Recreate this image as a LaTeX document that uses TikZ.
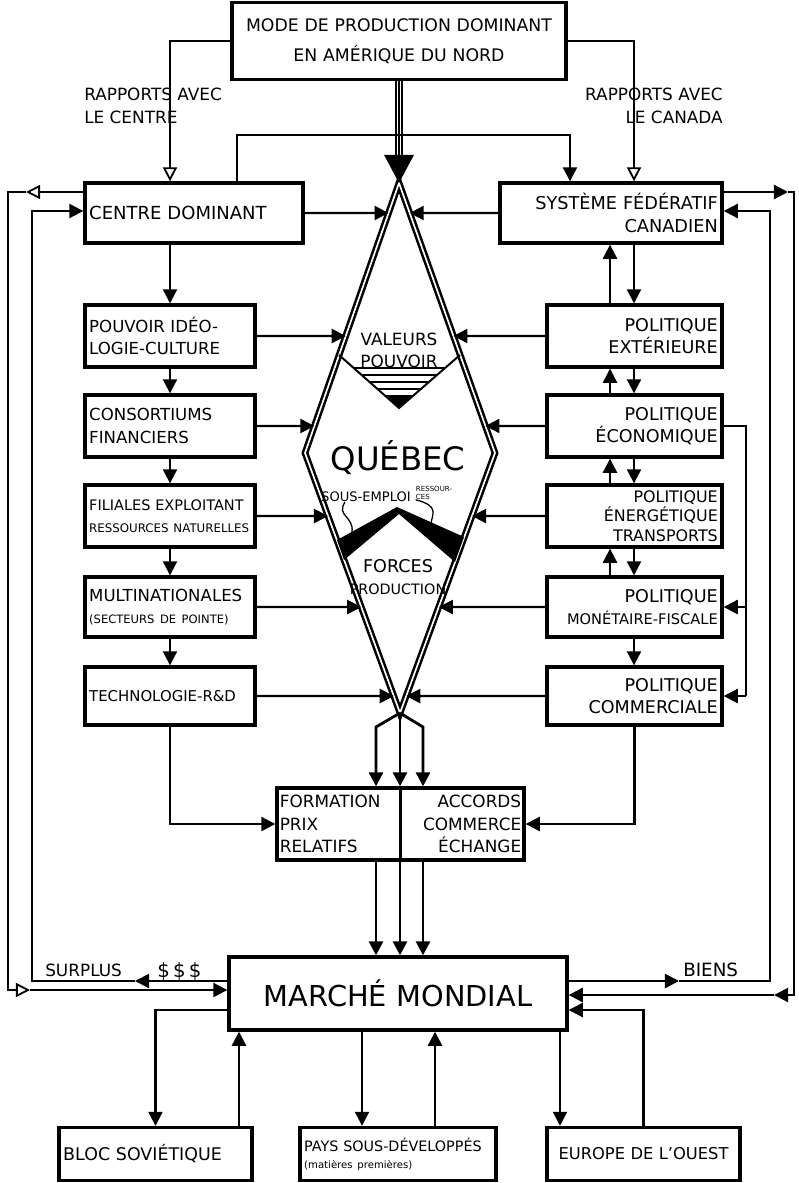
\documentclass[tikz,border=0pt]{standalone}
\usepackage{fontspec}
\setmainfont{DejaVu Sans}
\usetikzlibrary{arrows.meta,calc}
\tikzstyle{fl}=[->, line width=1.5pt]
\tikzstyle{flo}=[-{Triangle[open,length=10pt,width=10pt,line width=1.3pt]}, line width=1.5pt]
\tikzstyle{grosfl}=[->, line width=2pt]
\tikzstyle{bord}=[double, line width=1.8pt, double distance=1.2pt]
\tikzstyle{gauche}=[align=left]
\tikzstyle{droite}=[align=right]
\tikzstyle{lib}=[inner sep=0pt, font=\fontsize{12}{16}\selectfont]
\tikzset{boite/.style 2 args={draw, line width=2.4pt, inner xsep=3pt, inner ysep=0pt,
    text width=#1*0.025cm-6pt, minimum height=#2*0.025cm,
    font=\fontsize{11.8}{16}\selectfont}}

\begin{document}
\begin{tikzpicture}[x=0.025cm, y=-0.025cm, >={Triangle[length=10pt,width=10pt]}]
  \useasboundingbox (0,0) rectangle (798,1183);

  % boites
  \node[boite={334}{77}, align=center, font=\fontsize{12.3}{21}\selectfont] (mode) at (399,41) {MODE DE PRODUCTION DOMINANT\\EN AMÉRIQUE DU NORD};
  \node[boite={218}{60}, gauche, font=\fontsize{12.8}{16}\selectfont] (centre) at (194,213) {CENTRE DOMINANT};
  \node[boite={222}{60}, droite, font=\fontsize{12.6}{16}\selectfont] (systeme) at (611,213) {SYSTÈME FÉDÉRATIF\\CANADIEN};

  \node[boite={170}{62}, gauche] (pouvoir) at (170,336) {POUVOIR IDÉO-\\LOGIE-CULTURE};
  \node[boite={170}{62}, gauche] (consort) at (170,426) {CONSORTIUMS\\FINANCIERS};
  \node[boite={170}{62}, gauche, font=\fontsize{10.3}{16}\selectfont] (filiales) at (170,516) {FILIALES EXPLOITANT\\{\fontsize{8.4}{16}\selectfont RESSOURCES NATURELLES}};
  \node[boite={170}{60}, gauche] (multi) at (170,607) {MULTINATIONALES\\{\fontsize{8.2}{16}\selectfont (SECTEURS DE POINTE)}};
  \node[boite={170}{58}, gauche, font=\fontsize{10.6}{16}\selectfont] (techno) at (170,696) {TECHNOLOGIE-R\&D};

  \node[boite={175}{62}, droite, font=\fontsize{12.5}{16}\selectfont] (ext) at (634.5,336) {POLITIQUE\\EXTÉRIEURE};
  \node[boite={175}{62}, droite, font=\fontsize{12.5}{16}\selectfont] (eco) at (634.5,426) {POLITIQUE\\ÉCONOMIQUE};
  \node[boite={175}{62}, droite, font=\fontsize{11.3}{13.8}\selectfont] (energie) at (634.5,516) {POLITIQUE\\ÉNERGÉTIQUE\\TRANSPORTS};
  \node[boite={175}{60}, droite, font=\fontsize{12.5}{16}\selectfont] (monet) at (634.5,607) {POLITIQUE\\{\fontsize{10.4}{16}\selectfont MONÉTAIRE-FISCALE}};
  \node[boite={175}{58}, droite, font=\fontsize{12.5}{16}\selectfont] (comm) at (634.5,696) {POLITIQUE\\COMMERCIALE};

  \node[boite={247}{72}] (formation) at (400.5,824) {};
  \draw[line width=2.4pt] (formation.north) -- (formation.south);
  \node[lib, gauche, anchor=west] (prix) at ([xshift=3pt]formation.west) {FORMATION\\PRIX\\RELATIFS};
  \node[lib, droite, anchor=east] (accords) at ([xshift=-3pt]formation.east) {ACCORDS\\COMMERCE\\ÉCHANGE};

  \node[boite={338}{73}, align=center, font=\fontsize{20.5}{24}\selectfont] (marche) at (398,993.5) {MARCHÉ MONDIAL};
  \node[boite={193}{53}, gauche, font=\fontsize{12.4}{14}\selectfont] (bloc) at (155.5,1154) {BLOC SOVIÉTIQUE};
  \node[boite={196}{53}, gauche, font=\fontsize{10.2}{12}\selectfont] (pays) at (398,1154) {PAYS SOUS-DÉVELOPPÉS\\{\fontsize{7.2}{9}\selectfont (matières premières)}};
  \node[boite={193}{53}, align=center, font=\fontsize{11.6}{14}\selectfont] (europe) at (643.5,1154) {EUROPE DE L'OUEST};

  % textes libres
  \node[lib, gauche, anchor=west] (rapcentre) at (84,106) {RAPPORTS AVEC\\LE CENTRE};
  \node[lib, droite, anchor=east] (rapcanada) at (723,106) {RAPPORTS AVEC\\LE CANADA};
  \node[lib, anchor=base west] (surplus) at (45,976) {SURPLUS};
  \node[lib, anchor=base west, font=\fontsize{14}{14}\selectfont] (dollars) at (157,977) {\$\,\$\,\$};
  \node[lib, anchor=base west, font=\fontsize{13}{16}\selectfont] (biens) at (683,976) {BIENS};

  % le losange
  \coordinate (qN) at (399,183);
  \coordinate (qW) at (305,453);
  \coordinate (qS) at (400,713);
  \coordinate (qE) at (495,453);
  \coordinate (qH) at (399,157);
  \draw[bord] (qN) -- (qE) -- (qS) -- (qW) -- cycle;

  \coordinate (vL) at (339,355);
  \coordinate (vB) at (399,408);
  \coordinate (vR) at (460,355);
  \begin{scope}
    \clip (vL) -- (vB) -- (vR) -- cycle;
    \foreach \y in {368,375,382,389}
      \draw[line width=1.7pt] (300,\y) -- (500,\y);
    \fill (300,395) rectangle (500,410);
  \end{scope}
  \draw[line width=1.4pt] (vL) -- (vB) -- (vR);
  \fill (337,540) -- (397,507) -- (464,537) -- (455,562) -- (399,514) -- (344,560) -- cycle;

  \node[lib, align=center, font=\fontsize{12}{15.5}\selectfont] (valeurs) at (399,350) {VALEURS\\POUVOIR};
  \node[lib, font=\fontsize{23}{23}\selectfont] (quebec) at (398,458) {QUÉBEC};
  \node[lib, font=\fontsize{9.3}{10}\selectfont] (sousemploi) at (366,497) {SOUS-EMPLOI};
  \node[lib, align=left, font=\fontsize{5}{5.5}\selectfont] (ressources) at (434,493) {RESSOUR-\\CES};
  \node[lib, align=center, font=\fontsize{10.2}{16}\selectfont] (forces) at (398,577) {{\fontsize{12.5}{16}\selectfont FORCES}\\PRODUCTION};

  \coordinate (se1) at (352,532);
  \coordinate (re1) at (431,524);
  \draw[line width=.9pt] ([xshift=.6cm]sousemploi.south west) .. controls (336,516) and (354,516) .. (se1);
  \draw[line width=.9pt] (ressources.south west) .. controls (440,506) and (432,514) .. (re1);

  % colonnes et niveaux
  \coordinate (xh) at (610,0);
  \coordinate (xb) at (634,0);
  \coordinate (xg) at (237,0);
  \coordinate (xd) at (570,0);
  \coordinate (xe) at (746,0);
  \coordinate (yh) at (0,135);

  % du haut
  \draw[double, line width=1.1pt, double distance=3.4pt] (mode.south) -- (qH);
  \draw[line width=1.1pt, -{Triangle[length=20pt,width=21pt]}] (mode.south) -- (qN);
  \draw[flo] (mode.west) -| (centre.north -| pouvoir.north);
  \draw[flo] (mode.east) -| (systeme.north -| xb);
  \draw[fl] (centre.north -| xg) |- (xd |- yh) -- (systeme.north -| xd);

  % colonne de gauche
  \draw[fl] (centre.south -| pouvoir.north) -- (pouvoir.north);
  \draw[fl] (pouvoir.south) -- (consort.north);
  \draw[fl] (consort.south) -- (filiales.north);
  \draw[fl] (filiales.south) -- (multi.north);
  \draw[fl] (multi.south) -- (techno.north);

  % colonne de droite
  \draw[fl] (ext.north -| xh) -- (systeme.south -| xh);
  \draw[fl] (systeme.south -| xb) -- (ext.north -| xb);
  \draw[fl] (eco.north -| xh) -- (ext.south -| xh);
  \draw[fl] (ext.south -| xb) -- (eco.north -| xb);
  \draw[fl] (energie.north -| xh) -- (eco.south -| xh);
  \draw[fl] (eco.south -| xb) -- (energie.north -| xb);
  \draw[fl] (monet.north -| xh) -- (energie.south -| xh);
  \draw[fl] (energie.south -| xb) -- (monet.north -| xb);
  \draw[fl] (monet.south -| xb) -- (comm.north -| xb);

  \draw[line width=1.5pt] (eco.east) -- (eco.east -| xe) -- (xe |- comm.east);
  \draw[fl] (xe |- monet.east) -- (monet.east);
  \draw[fl] (xe |- comm.east) -- (comm.east);

  % vers le losange
  \draw[fl] (centre.east) -- (intersection of qN--qW and centre.east--systeme.west);
  \draw[fl] (systeme.west) -- (intersection of qN--qE and centre.east--systeme.west);
  \draw[fl] (pouvoir.east) -- (intersection of qN--qW and pouvoir.east--ext.west);
  \draw[fl] (ext.west) -- (intersection of qN--qE and pouvoir.east--ext.west);
  \draw[fl] (consort.east) -- (intersection of qN--qW and consort.east--eco.west);
  \draw[fl] (eco.west) -- (intersection of qN--qE and consort.east--eco.west);
  \draw[fl] (filiales.east) -- (intersection of qW--qS and filiales.east--energie.west);
  \draw[fl] (energie.west) -- (intersection of qE--qS and filiales.east--energie.west);
  \draw[fl] (multi.east) -- (intersection of qW--qS and multi.east--monet.west);
  \draw[fl] (monet.west) -- (intersection of qE--qS and multi.east--monet.west);
  \draw[fl] (techno.east) -- (intersection of qW--qS and techno.east--comm.west);
  \draw[fl] (comm.west) -- (intersection of qE--qS and techno.east--comm.west);

  % sorties du losange
  \coordinate (b1) at (376,727);
  \coordinate (b3) at (423,727);
  \draw[grosfl] (qS) -- (b1) -- (b1 |- formation.north);
  \draw[grosfl] (qS) -- (qS |- formation.north);
  \draw[grosfl] (qS) -- (b3) -- (b3 |- formation.north);
  \draw[grosfl] (formation.south -| b1) -- (marche.north -| b1);
  \draw[grosfl] (formation.south -| qS) -- (marche.north -| qS);
  \draw[grosfl] (formation.south -| b3) -- (marche.north -| b3);

  \draw[fl] (techno.south) |- (formation.west);
  \draw[fl] (comm.south) |- (formation.east);

  % boucles de gauche
  \coordinate (xlo) at (8,0);
  \coordinate (xli) at (32,0);
  \coordinate (ya) at (0,192);
  \coordinate (yb) at (0,211);
  \coordinate (yc) at (0,990);
  \coordinate (yd) at (0,981);
  \coordinate (ga) at (26,192);
  \coordinate (gb) at (30,990);
  \coordinate (gc) at (135,981);
  \draw[flo] (centre.west |- ya) -- (ga);
  \draw[flo] (ga) -- (xlo |- ya) -- (xlo |- yc) -- (gb);
  \draw[fl] (gb) -- (marche.west |- yc);
  \draw[fl] (marche.west |- yd) -- (gc);
  \draw[fl] (gc) -- (xli |- yd) -- (xli |- yb) -- (centre.west |- yb);

  % boucles de droite
  \coordinate (xro) at (794,0);
  \coordinate (xri) at (770,0);
  \coordinate (ye) at (0,995);
  \coordinate (gd) at (788,192);
  \coordinate (ge) at (774,995);
  \coordinate (gf) at (679,981);
  \draw[fl] (systeme.east |- ya) -- (gd);
  \draw[fl] (gd) -- (xro |- ya) -- (xro |- ye) -- (ge);
  \draw[fl] (ge) -- (marche.east |- ye);
  \draw[fl] (marche.east |- yd) -- (gf);
  \draw[fl] (gf) -- (xri |- yd) -- (xri |- yb) -- (systeme.east |- yb);

  % marche mondial et le reste du monde
  \coordinate (yf) at (0,1010);
  \coordinate (xa) at (239,0);
  \coordinate (xp) at (362,0);
  \coordinate (xq) at (435,0);
  \coordinate (xr) at (560,0);
  \draw[fl] (marche.west |- yf) -| (bloc.north);
  \draw[fl] (bloc.north -| xa) -- (marche.south -| xa);
  \draw[fl] (marche.south -| xp) -- (pays.north -| xp);
  \draw[fl] (pays.north -| xq) -- (marche.south -| xq);
  \draw[fl] (marche.south -| xr) -- (europe.north -| xr);
  \draw[fl] (europe.north) |- (marche.east |- yf);

\end{tikzpicture}
\end{document}
